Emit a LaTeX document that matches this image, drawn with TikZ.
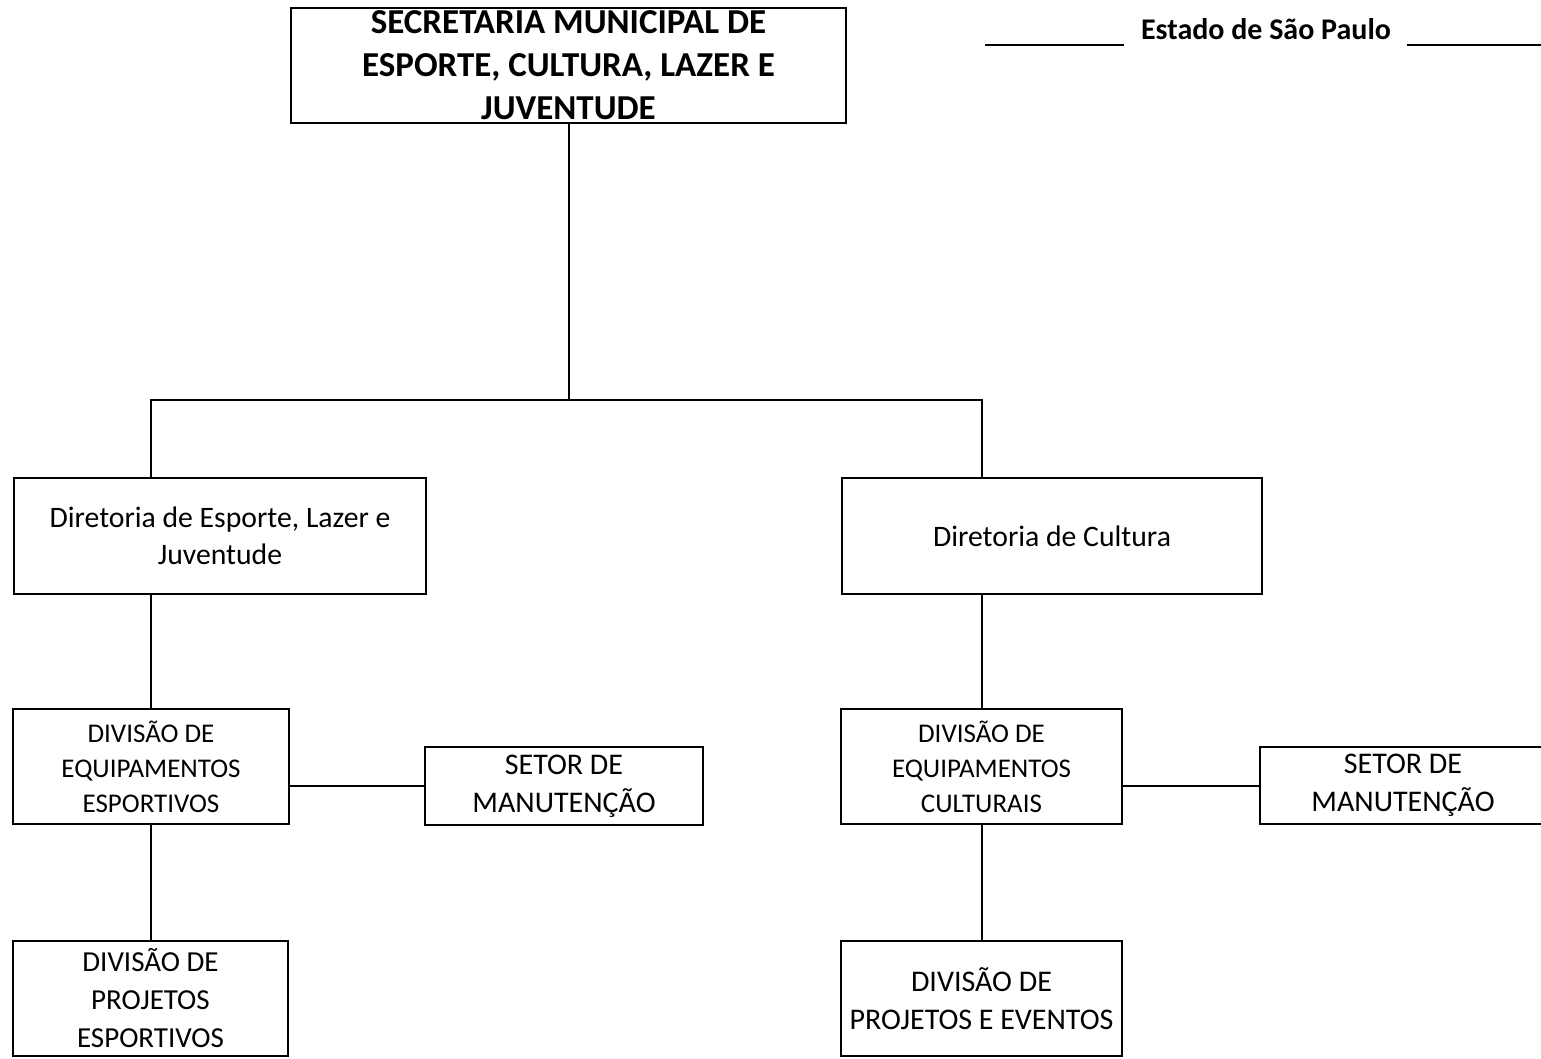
\documentclass[tikz,border=0pt]{standalone}
\usepackage{fontspec}
\setmainfont{Carlito}
\usetikzlibrary{positioning}
\begin{document}
\begin{tikzpicture}[x=1pt,y=-1pt,
  box/.style={draw,line width=2pt,rectangle,inner sep=0pt,align=center},
  conn/.style={line width=2pt},
  fTop/.style={font=\bfseries\fontsize{35}{43}\selectfont},
  fDir/.style={font=\fontsize{29.7}{37}\selectfont},
  fDiv/.style={font=\fontsize{27}{35}\selectfont},
  fSet/.style={font=\fontsize{30}{38}\selectfont},
  fProj/.style={font=\fontsize{29}{38}\selectfont}]
\useasboundingbox[fill=white] (0,0) rectangle (1541,1058);

% header
\node[font=\bfseries\fontsize{30}{34}\selectfont] (estado) at (1266,29) {Estado de São Paulo};
\draw[line width=2pt] (985,45) -- (1124,45);
\draw[line width=2pt] (1407,45) -- (1541,45);

% secretaria
\node[box,fTop,minimum width=555pt,minimum height=115pt] (top) at (568.5,65.5)
  {SECRETARIA MUNICIPAL DE\\ESPORTE, CULTURA, LAZER E\\JUVENTUDE};

% diretorias
\node[box,fDir,minimum width=412pt,minimum height=116pt] (dEsp) at (220,536)
  {Diretoria de Esporte, Lazer e\\Juventude};
\node[box,fDir,minimum width=420pt,minimum height=116pt] (dCul) at (1052,536)
  {Diretoria de Cultura};

% divisoes de equipamentos
\node[box,fDiv,minimum width=276pt,minimum height=115pt] (divE) at (151,766.5)
  {DIVISÃO DE\\EQUIPAMENTOS\\ESPORTIVOS};
\node[box,fDiv,minimum width=281pt,minimum height=115pt] (divC) at (981.5,766.5)
  {DIVISÃO DE\\EQUIPAMENTOS\\CULTURAIS};

% setores de manutencao
\node[box,fSet,minimum width=278pt,minimum height=78pt] (setE) at (564,786)
  {SETOR DE\\MANUTENÇÃO};
\node[box,fSet,minimum width=286pt,minimum height=77pt] (setC) at (1403,785.5)
  {SETOR DE\\MANUTENÇÃO};

% divisoes de projetos
\node[box,fProj,minimum width=275pt,minimum height=115pt] (projE) at (150.5,998.5)
  {DIVISÃO DE\\PROJETOS\\ESPORTIVOS};
\node[box,fSet,minimum width=281pt,minimum height=115pt] (projC) at (981.5,998.5)
  {DIVISÃO DE\\PROJETOS E EVENTOS};

% connectors
\coordinate (bus) at (0,400);
\draw[conn] (top.south) -- (top.south |- bus);
\draw[conn] (dEsp.north -| divE.north) -- (divE.north |- bus)
  -- (divC.north |- bus) -- (dCul.north -| divC.north);
\draw[conn] (dEsp.south -| divE.north) -- (divE.north);
\draw[conn] (dCul.south -| divC.north) -- (divC.north);
\draw[conn] (setE.west) -- (setE.west -| divE.east);
\draw[conn] (setC.west) -- (setC.west -| divC.east);
\draw[conn] (divE.south) -- (projE.north -| divE.south);
\draw[conn] (divC.south) -- (projC.north);
\end{tikzpicture}
\end{document}
